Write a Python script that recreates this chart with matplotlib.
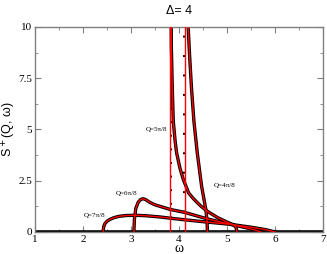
# S+(Q, w) lineshapes at Delta = 4, numerics (black) vs analytic (red)
import matplotlib
matplotlib.use("Agg")
from matplotlib import pyplot as plt
from matplotlib.ticker import MultipleLocator

# omega range of the data (zero outside the continuum)
w_range = [1, 7]

# Q = 4pi/8 : divergent lower edge, then fast decay
q4_edge = 4.11
q4_w = [4.18, 4.19, 4.22, 4.26, 4.31, 4.38, 4.47, 4.56, 4.585, 4.59]
q4_s = [11.0, 10.0, 8.6, 7.0, 5.4, 3.85, 2.23, 1.07, 0.5, 0.0]

# Q = 5pi/8
q5_edge = 3.825
q5_w = [3.83, 3.84, 3.86, 3.88, 3.92, 3.95, 4.02, 4.09, 4.2, 4.3, 4.45,
        4.58, 4.8, 5.0, 5.12, 5.18, 5.21]
q5_s = [12.0, 9.0, 7.0, 5.4, 4.4, 3.85, 3.1, 2.55, 1.9, 1.62, 1.27,
        1.02, 0.7, 0.48, 0.36, 0.25, 0.0]

# Q = 6pi/8
q6_w = [3.06, 3.07, 3.1, 3.15, 3.2, 3.25, 3.3, 3.4, 3.5, 3.6, 3.81, 4.12,
        4.58, 5.07, 5.4, 5.6, 5.7]
q6_s = [0.0, 0.6, 1.15, 1.45, 1.58, 1.62, 1.58, 1.43, 1.32, 1.25, 1.1, 0.95,
        0.64, 0.37, 0.2, 0.08, 0.0]

# Q = 7pi/8
q7_w = [2.42, 2.43, 2.46, 2.5, 2.56, 2.65, 2.75, 2.9, 3.1, 3.3, 3.6, 3.81,
        4.12, 4.58, 5.07, 5.5, 5.8, 6.0]
q7_s = [0.0, 0.25, 0.42, 0.52, 0.61, 0.7, 0.76, 0.8, 0.81, 0.79, 0.73, 0.67,
        0.59, 0.48, 0.37, 0.23, 0.11, 0.0]

# analytic edges (red verticals)
red_edges = [3.81, 4.125]

labels = ["Q=4\u03c0/8", "Q=5\u03c0/8", "Q=6\u03c0/8", "Q=7\u03c0/8"]
label_pos = [(4.94, 2.24), (3.54, 4.98), (2.9, 1.85), (2.25, 0.78)]

fig = plt.figure(figsize=(3.27, 2.54), dpi=100)
ax = fig.add_axes([0.107, 0.087, 0.881, 0.807])

gray = "#808080"
serif = "Liberation Serif"

# numerical data: thick black
ax.plot(w_range, [0, 0], color="black", lw=2.6, solid_capstyle="butt", zorder=2)
for ws, ss in [(q4_w, q4_s), (q5_w, q5_s), (q6_w, q6_s), (q7_w, q7_s)]:
    ax.plot(ws, ss, color="black", lw=2.4, zorder=2)
for e, gap in [(q5_edge, 6), (q4_edge, 9)]:
    ax.plot([e, e], [0, 10], color="black", lw=1.4,
            dashes=(1, gap), zorder=2)

# analytic result: thin red
for ws, ss in [(q4_w, q4_s), (q5_w, q5_s), (q6_w, q6_s), (q7_w, q7_s)]:
    ax.plot(ws, ss, color="red", lw=1.0, zorder=3)
for e in red_edges:
    ax.plot([e, e], [0, 10], color="red", lw=1.0, zorder=3)

for txt, (x, y) in zip(labels, label_pos):
    ax.text(x, y, txt, fontsize=5, family=serif, ha="center", va="center")

ax.set_xlim(1, 7)
ax.set_ylim(0, 10)
ax.xaxis.set_major_locator(MultipleLocator(1))
ax.xaxis.set_minor_locator(MultipleLocator(0.5))
ax.yaxis.set_minor_locator(MultipleLocator(1.25))
ax.set_yticks([0, 2.5, 5, 7.5, 10])
ax.set_yticklabels(["0", "2.5", "5", "7.5", "10"])
ax.tick_params(which="both", direction="in", top=True, right=True,
               color=gray, labelsize=8, pad=2)
ax.tick_params(which="major", length=4)
ax.tick_params(which="minor", length=2)
for lab in ax.get_xticklabels() + ax.get_yticklabels():
    lab.set_family(serif)
for sp in ax.spines.values():
    sp.set_color(gray)
    sp.set_linewidth(1.0)

ax.set_xlabel("\u03c9", fontsize=10, family=serif, labelpad=-1)
ax.set_ylabel("S$^+$(Q, \u03c9)", fontsize=9, family="Liberation Sans")
ax.yaxis.set_label_coords(-0.058, 0.5)
ax.set_title("\u0394= 4", fontsize=9, family="Liberation Sans", pad=9)

fig.savefig("out.png", dpi=100)
